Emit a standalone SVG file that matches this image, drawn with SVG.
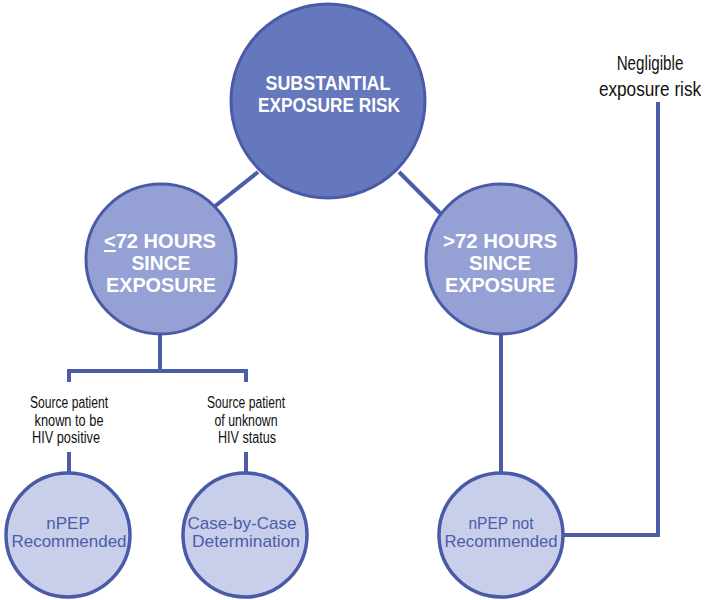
<svg xmlns="http://www.w3.org/2000/svg" width="707" height="600" viewBox="0 0 707 600">
<style>
.ln{stroke:#4c5ca9;stroke-width:4;fill:none}
.c1{fill:#6577bd;stroke:#4a5aa6;stroke-width:3}
.c2{fill:#95a1d4;stroke:#4a5aa6;stroke-width:3}
.c3{fill:#c9cfeb;stroke:#4a5aa6;stroke-width:3.5}
.wt{font-family:"Liberation Sans",Arial,sans-serif;font-weight:bold;fill:#fff;text-anchor:middle;font-size:21px}
.bt{font-family:"Liberation Sans",Arial,sans-serif;fill:#4d5ca8;text-anchor:middle;font-size:17px}
.kt{font-family:"Liberation Sans",Arial,sans-serif;fill:#111;text-anchor:middle;font-size:16px}
.ng{font-family:"Liberation Sans",Arial,sans-serif;fill:#111;text-anchor:middle;font-size:20px}
</style>
<rect width="707" height="600" fill="#fff"/>
<g id="connectors">
<line class="ln" x1="258" y1="172" x2="214" y2="207"/>
<line class="ln" x1="399" y1="172" x2="441" y2="214"/>
<polyline class="ln" points="160,334 160,371"/>
<polyline class="ln" points="69,382 69,371 246,371 246,382"/>
<line class="ln" x1="69" y1="452" x2="69" y2="474"/>
<line class="ln" x1="246" y1="452" x2="246" y2="474"/>
<line class="ln" x1="501" y1="333" x2="501" y2="474"/>
<polyline class="ln" points="563,535 658,535 658,102"/>
</g>
<g id="n-substantial">
<circle class="c1" cx="328" cy="101" r="97"/>
<text class="wt" x="328" y="90" textLength="125" lengthAdjust="spacingAndGlyphs">SUBSTANTIAL</text>
<text class="wt" x="329" y="112" textLength="142" lengthAdjust="spacingAndGlyphs">EXPOSURE RISK</text>
</g>
<g id="n-le72">
<circle class="c2" cx="161" cy="259" r="75"/>
<text class="wt" x="160" y="248" textLength="112" lengthAdjust="spacingAndGlyphs"><tspan text-decoration="underline">&lt;</tspan>72 HOURS</text>
<text class="wt" x="161" y="270" textLength="59" lengthAdjust="spacingAndGlyphs">SINCE</text>
<text class="wt" x="161" y="292" textLength="110" lengthAdjust="spacingAndGlyphs">EXPOSURE</text>
</g>
<g id="n-gt72">
<circle class="c2" cx="501" cy="259" r="75"/>
<text class="wt" x="500" y="248" textLength="114" lengthAdjust="spacingAndGlyphs">&gt;72 HOURS</text>
<text class="wt" x="500" y="270" textLength="62" lengthAdjust="spacingAndGlyphs">SINCE</text>
<text class="wt" x="500" y="292" textLength="110" lengthAdjust="spacingAndGlyphs">EXPOSURE</text>
</g>
<g id="lbl-known">
<text class="kt" x="69" y="408" textLength="78" lengthAdjust="spacingAndGlyphs">Source patient</text>
<text class="kt" x="69" y="426" textLength="69" lengthAdjust="spacingAndGlyphs">known to be</text>
<text class="kt" x="66" y="443" textLength="68" lengthAdjust="spacingAndGlyphs">HIV positive</text>
</g>
<g id="lbl-unknown">
<text class="kt" x="246" y="408" textLength="78" lengthAdjust="spacingAndGlyphs">Source patient</text>
<text class="kt" x="246" y="426" textLength="63" lengthAdjust="spacingAndGlyphs">of unknown</text>
<text class="kt" x="247" y="443" textLength="58" lengthAdjust="spacingAndGlyphs">HIV status</text>
</g>
<g id="n-npep">
<circle class="c3" cx="68" cy="535" r="62"/>
<text class="bt" x="68" y="529">nPEP</text>
<text class="bt" x="69" y="547" textLength="115" lengthAdjust="spacingAndGlyphs">Recommended</text>
</g>
<g id="n-case">
<circle class="c3" cx="245" cy="535" r="62"/>
<text class="bt" x="242" y="529" textLength="109" lengthAdjust="spacingAndGlyphs">Case-by-Case</text>
<text class="bt" x="246" y="547" textLength="108" lengthAdjust="spacingAndGlyphs">Determination</text>
</g>
<g id="n-notrec">
<circle class="c3" cx="501" cy="535" r="62"/>
<text class="bt" x="501" y="529" textLength="65" lengthAdjust="spacingAndGlyphs">nPEP not</text>
<text class="bt" x="501" y="547" textLength="113" lengthAdjust="spacingAndGlyphs">Recommended</text>
</g>
<g id="lbl-negligible">
<text class="ng" transform="translate(650,70) scale(0.76,1)" x="0" y="0">Negligible</text>
<text class="ng" transform="translate(650,96) scale(0.86,1)" x="0" y="0">exposure risk</text>
</g>
</svg>
